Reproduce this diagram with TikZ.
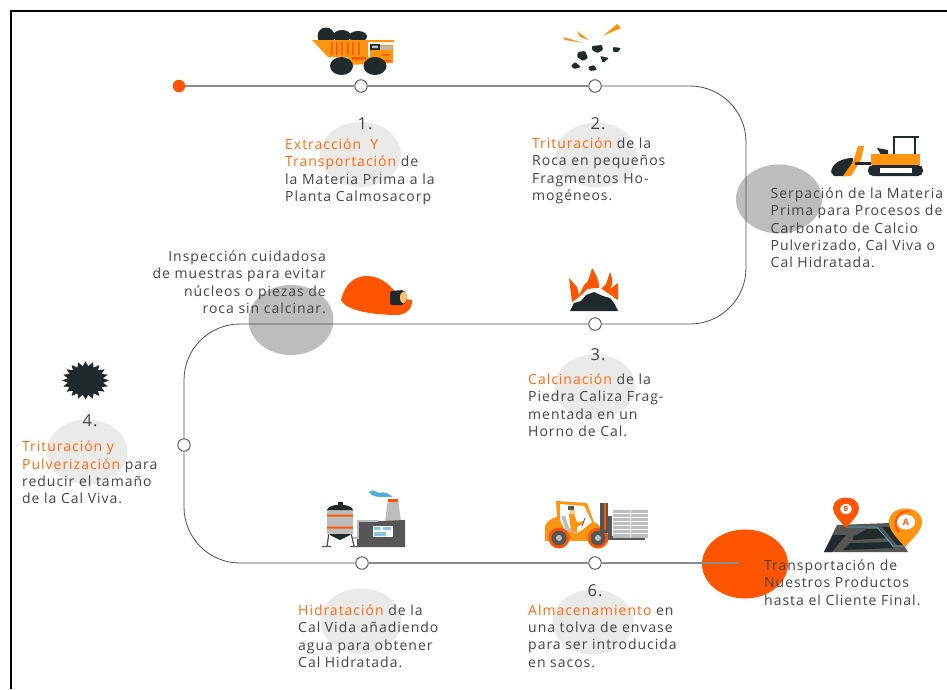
\documentclass[tikz,border=0pt]{standalone}
\usepackage{fontspec}
\setmainfont[LetterSpace=7]{Open Sans}
\usetikzlibrary{shapes.geometric}
\definecolor{oran}{HTML}{FF5500}
\definecolor{hlt}{HTML}{FF6A14}
\definecolor{amber}{HTML}{FF9411}
\definecolor{ink}{HTML}{20292B}
\definecolor{txt}{HTML}{444444}
\definecolor{pale}{HTML}{EAEAE8}
\definecolor{midg}{HTML}{BDBDBD}
\definecolor{lineg}{HTML}{4A4F50}
\definecolor{lineh}{HTML}{8C8C8C}
\definecolor{slate}{HTML}{565656}
\definecolor{sky}{HTML}{55AFCF}
\tikzset{
 x=1pt,y=-1pt,
 lab/.style={inner sep=0pt,align=left,anchor=north west,text=txt,font=\fontsize{14}{17.2}\selectfont},
 labr/.style={lab,align=right,anchor=north east},
 num/.style={inner sep=0pt,text=txt,font=\fontsize{16.5}{17}\selectfont},
 stop/.style={circle,draw=lineg,fill=white,line width=.9pt,minimum size=12.5pt,inner sep=0pt},
 route/.style={draw=lineg,line width=.8pt},
 routeh/.style={draw=lineh,line width=1.1pt},
 halo/.style={ellipse,fill=pale,minimum width=81pt,minimum height=65pt,inner sep=0pt},
 blob/.style={ellipse,fill=midg,inner sep=0pt},
}
\newcommand{\hl}[1]{\textcolor{hlt}{#1}}
\begin{document}
\begin{tikzpicture}
\useasboundingbox (0,0) rectangle (947,689);
\fill[white] (0,0) rectangle (947,689);
% frame
\draw[black,line width=2pt] (10.5,689) -- (10.5,10.5) -- (947,10.5);
% halos and blobs
\node[halo] (h1) at (360.5,154.5) {};
\node[halo] (h2) at (596.5,155) {};
\node[halo] (h3) at (595,387) {};
\node[halo] (h4) at (87,452) {};
\node[halo] (h5) at (361,621) {};
\node[halo] (h6) at (593,622) {};
\node[blob,minimum width=86pt,minimum height=69pt] (b1) at (779,199) {};
\node[blob,minimum width=85pt,minimum height=70pt] (b2) at (291,320) {};
\node[ellipse,fill=oran,inner sep=0pt,minimum width=86pt,minimum height=69pt] (b3) at (745,564) {};
% route
\coordinate (c1) at (746,86);
\coordinate (c2) at (746,324);
\coordinate (c3) at (184,324);
\coordinate (c4) at (184,563);
\coordinate (fin) at (739,563);
\node[circle,fill=oran,minimum size=12.5pt,inner sep=0pt] (s0) at (179,86) {};
\node[stop] (s1) at (361,86) {};
\node[stop] (s2) at (595,86) {};
\node[stop] (s3) at (595,324) {};
\node[stop] (s4) at (184,445) {};
\node[stop] (s5) at (362,563) {};
\node[stop] (s6) at (595,563) {};
\draw[routeh] (s0) -- (s1);
\draw[routeh] (s1) -- (s2);
\draw[route,rounded corners=56pt] (s2) -- (c1) -- (c2) -- (s3);
\draw[route,rounded corners=56pt] (s3) -- (c3) -- (s4);
\draw[route,rounded corners=56pt] (s4) -- (c4) -- (s5);
\draw[routeh] (s5) -- (s6);
\draw[routeh] (s6) -- (fin);
% texts
\node[num] (t1) at (365,123.5) {1.};
\node[lab] (x1) at (285,138.7) {\hl{Extracción\ \ Y}\\\hl{Transportación} de\\la Materia Prima a la\\Planta Calmosacorp};
\node[num] (t2) at (598,123.5) {2.};
\node[lab] (x2) at (532,137.7) {\hl{Trituración} de la\\Roca en pequeños\\Fragmentos Ho-\\mogéneos.};
\node[lab] (x3) at (770.5,187.7) {Serpación de la Materia\\Prima para Procesos de\\Carbonato de Calcio\\Pulverizado, Cal Viva o\\Cal Hidratada.};
\node[labr] (x4) at (326,250.7) {Inspección cuidadosa\\de muestras para evitar\\núcleos o piezas de\\roca sin calcinar.};
\node[num] (t3) at (598,355) {3.};
\node[lab] (x5) at (528,373.7) {\hl{Calcinación} de la\\Piedra Caliza Frag-\\mentada en un\\Horno de Cal.};
\node[num] (t4) at (90,421) {4.};
\node[lab] (x6) at (22,441) {\hl{Trituración y}\\\hl{Pulverización} para\\reducir el tamaño\\de la Cal Viva.};
\node[lab] (x7) at (298,604.7) {\hl{Hidratación} de la\\Cal Vida añadiendo\\agua para obtener\\Cal Hidratada.};
\node[num] (t6) at (595,590.5) {6.};
\node[lab] (x8) at (528,604.7) {\hl{Almacenamiento} en\\una tolva de envase\\para ser introducida\\en sacos.};
\node[lab] (x9) at (764,559.7) {Transportación de\\Nuestros Productos\\hasta el Cliente Final.};
% truck
\fill[ink] (326,36) circle (8.5) (342,36) ellipse (9 and 6) (358,36.5) ellipse (9 and 5.5);
\fill[amber] (312,40) -- (394,40) -- (394,42) -- (368,42) -- (368,57) -- (328,57) -- cycle;
\fill[amber] (370,45) -- (393,45) -- (393,63) -- (348,65) -- (348,57) -- (370,57) -- cycle;
\fill[oran] (331,42) rectangle +(1.5,13) (336,42) rectangle +(1.5,13) (341,42) rectangle +(1.5,13) (347,42) rectangle +(1.5,13) (352,42) rectangle +(1.5,13) (358,42) rectangle +(1.5,13) (352,57) rectangle +(14,2.5);
\fill[white] (368.5,44) rectangle (370,55);
\fill[ink] (370,44) rectangle (380,49.5);
\fill[midg] (372,45.5) rectangle (378,48) (380,46) rectangle (392,49.5);
\fill[oran] (382,54) rectangle (390,55.5) (382,60) rectangle (391,61.5);
\fill[ink] (341.5,66) ellipse (11.5 and 9);
\fill[ink] (375,66) ellipse (11.5 and 9);
% rocks
\fill[amber] (563,37) -- (584,43) -- (565,40) -- cycle;
\fill[amber] (577,31) -- (589,40) -- (580,37) -- cycle;
\fill[amber] (603,36) -- (617,24) -- (621,28) -- cycle;
\begin{scope}[rounded corners=1pt]
\fill[ink] (578,52) -- (585,51) -- (588,58) -- (583,61) -- (577,57) -- cycle;
\fill[ink] (592,46) -- (602,45) -- (603,50) -- (597,53) -- (592,50) -- cycle;
\fill[ink] (613,47) -- (621,48) -- (618,52) -- (613,52) -- cycle;
\fill[ink] (600,56) -- (609,58) -- (603,63) -- cycle;
\fill[ink] (571,66) -- (575,62) -- (581,67) -- (574,69) -- cycle;
\fill[ink] (588,67) -- (594,65) -- (597,70) -- (590,71) -- cycle;
\end{scope}
% bulldozer
\fill[ink] (831,172) .. controls (832,163) and (842,158) .. (853,158) -- (852,170) -- (846,176) -- (834,176) -- cycle;
\fill[amber] (858,146) -- (864,146) -- (861,160) -- (851,176) -- (843,176) -- (853,162) -- cycle;
\fill[ink] (855,162) rectangle (871,165);
\draw[ink,line width=2pt] (894,154) -- (894,137) -- (919,137) (915,137) -- (915,154);
\fill[ink] (877,148) -- (888,150) -- (888,155) -- (881,155) -- cycle;
\fill[amber] (871,154) -- (920,154) -- (920,165) -- (871,165) -- cycle;
\fill[ink,rounded corners=5pt] (868,165) rectangle (923,176);
\fill[white] (880,167.5) rectangle (912,173);
% helmet
\fill[oran] (341,300) .. controls (345,284) and (354,276) .. (367,276) .. controls (382,276) and (393,287) .. (399,298) -- (412,300) .. controls (413,309) and (405,315) .. (397,315) .. controls (375,315) and (346,311) .. (341,300) -- cycle;
\fill[ink,rounded corners=2pt] (390,291) -- (404,290) -- (408,298) -- (404,305) -- (390,305) -- cycle;
\fill[amber!60!white] (403.5,297.5) ellipse (3.5 and 6);
% flames
\fill[oran] (572,302) -- (569,278) -- (577,287) -- (579,295) -- (584,285) .. controls (589,282) and (590,275) .. (592,268) .. controls (596,274) and (600,282) .. (599,291) -- (606,284) -- (610,272) .. controls (613,279) and (613,284) .. (610,289) -- (618,283) -- (618,300) -- (612,296) -- (600,288) -- (588,289) -- (578,298) -- cycle;
\fill[white] (572,304) -- (578,298) -- (588,289) -- (600,288) -- (612,296) -- (618,304) -- cycle;
\fill[ink] (570,311) -- (574,303) -- (581,301) -- (586,295) -- (594,292) -- (603,296) -- (610,298) -- (614,303) -- (618,311) -- cycle;
% burst
\begin{scope}[shift={(85.5,380.5)},yscale=.81]
\node[star,star points=20,star point ratio=1.32,fill=ink,minimum size=47pt,inner sep=0pt,transform shape] (burst) at (0,0) {};
\end{scope}
% factory
\fill[sky] (369,492) .. controls (372,489) and (376,491) .. (379,493) .. controls (383,491) and (388,493) .. (393,497) -- (384,497) .. controls (378,497) and (372,497) .. (369,492) -- cycle;
\fill[midg] (388,499) -- (398,499) -- (401,521) -- (385,521) -- cycle;
\fill[oran] (388,499) rectangle (398,502);
\fill[slate] (357,522) -- (405,520) -- (405,547) -- (357,547) -- cycle;
\draw[slate,line width=1.3pt] (329,533) -- (327,546) (351,533) -- (354,546) (322,546.5) -- (331,546.5) (350,546.5) -- (358,546.5);
\fill[ink] (330,530) -- (350,530) -- (350,535) -- (340,540) -- (330,535) -- cycle;
\fill[midg] (327,510) rectangle (353,534);
\fill[ink] (327,510) .. controls (328,503) and (352,503) .. (353,510) -- cycle;
\fill[ink] (338,502) rectangle (343,505);
\fill[oran] (327,514.5) rectangle (353,516.5) (327,526.5) rectangle (353,528.5);
\draw[midg,line width=1.5pt] (353,538) -- (358,538) -- (358,521) -- (378,521);
\fill[white] (373,526) rectangle (393,537);
\fill[sky!70!white] (374,527) rectangle (380,530) (383,527) rectangle (391,530) (374,532) rectangle (386,536);
% forklift
\fill[amber] (545,538) -- (545,526) .. controls (547,521) and (552,518) .. (557,517) -- (556,501) -- (587,503) -- (594,522) .. controls (600,524) and (603,530) .. (603,538) -- cycle;
\fill[white] (560,504) -- (584,506) -- (592,522) -- (582,530) -- (577,533) -- (565,530) -- (560,520) -- cycle;
\fill[midg] (561,516) -- (565,516) -- (569,528) -- (577,530) -- (577,533) -- (566,531) -- cycle;
\fill[amber] (569,514) -- (574,514) -- (577,522) -- (584,521) -- (584,523) -- (577,527) -- (577,532) -- (571,531) -- cycle;
\fill[slate] (568,506) rectangle (574,510);
\fill[amber!50!white] (570,510) rectangle (575,514);
\draw[slate,line width=.8pt] (582,526) -- (585,518);
\fill[amber] (545,536) rectangle (603,541);
\fill[oran] (559,538) circle (10.5);
\fill[oran] (598,538) circle (10.5);
\fill[slate] (559,538) circle (7.5);
\fill[midg] (559,538) circle (3);
\fill[slate] (598,538) circle (7.5);
\fill[midg] (598,538) circle (3);
\fill[slate] (600,503) rectangle (608,533);
\fill[oran] (603.5,503) rectangle (605.5,530);
\fill[slate] (608,516) rectangle (612,540);
\fill[slate] (608,536) rectangle (645,540);
\fill[midg] (613,510) rectangle (648,538);
\foreach \yy in {513,517,521,525,529,533} {\draw[white,line width=.5pt] (613,\yy) -- (648,\yy);}
\draw[white,line width=.5pt] (630.5,510) -- (630.5,538);
% map
\fill[slate] (837,525) -- (890,523) -- (908,552) -- (824,552) -- cycle;
\fill[ink] (824,552) -- (833,535) -- (846,535) -- (832,552) -- cycle;
\fill[ink] (853,537) -- (867,529) -- (880,529) -- (887,538) -- (853,540) -- cycle;
\fill[ink] (850,543) -- (890,542) -- (893,548) -- (843,550) -- cycle;
\fill[ink] (882,527) -- (897,527) -- (903,545) -- (897,545) -- cycle;
\draw[sky,line width=.8pt] (847,527) -- (877,527) -- (893,546) -- (907,546);
\fill[oran] (846,528) .. controls (838,519) and (833,514) .. (833,508) .. controls (833,494) and (859,494) .. (859,508) .. controls (859,514) and (854,519) .. (846,528) -- cycle;
\fill[white] (846,509) ellipse (6 and 5);
\node[inner sep=0pt,text=oran,font=\fontsize{7}{7}\selectfont\bfseries] (pinb) at (846,509) {B};
\fill[amber] (905,547) .. controls (897,538) and (889,531) .. (889,522) .. controls (889,504) and (922,504) .. (922,522) .. controls (922,531) and (913,538) .. (905,547) -- cycle;
\draw[oran,line width=2pt] (899,532) .. controls (892,525) and (896,511) .. (909,511);
\fill[white] (906,522) ellipse (9 and 7.5);
\node[inner sep=0pt,text=oran,font=\fontsize{9}{9}\selectfont\bfseries] (pina) at (906,522) {A};
\end{tikzpicture}
\end{document}
